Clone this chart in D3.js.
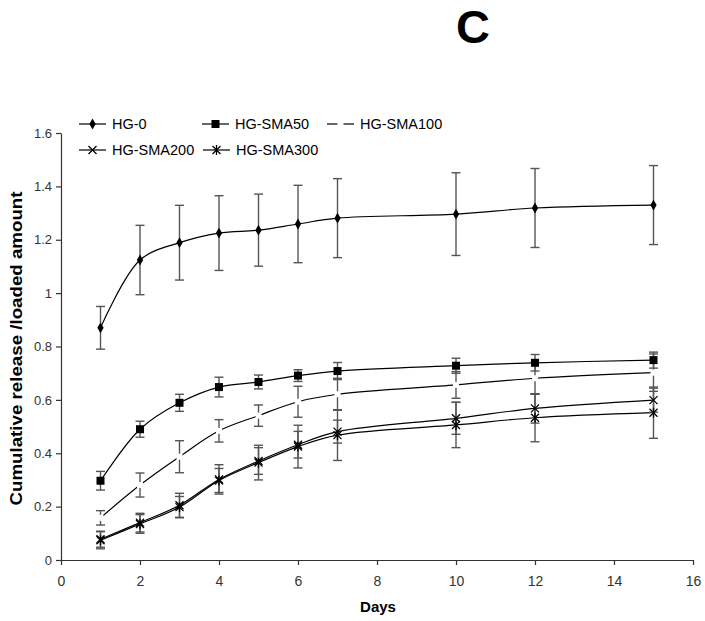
<!DOCTYPE html>
<html><head><meta charset="utf-8">
<script src="https://cdn.jsdelivr.net/npm/d3@7"></script>
<style>body{margin:0;background:#fff}</style></head>
<body>
<svg id="c" width="705" height="621"></svg>
<script>
const days = [1, 2, 3, 4, 5, 6, 7, 10, 12, 15];
const seriesNames = ["HG-0", "HG-SMA50", "HG-SMA100", "HG-SMA200", "HG-SMA300"];
const hg0      = [0.87, 1.124, 1.189, 1.225, 1.236, 1.259, 1.281, 1.296, 1.319, 1.33];
const hg0Err   = [0.08, 0.13, 0.14, 0.14, 0.135, 0.145, 0.148, 0.155, 0.148, 0.148];
const sma50    = [0.297, 0.49, 0.589, 0.648, 0.667, 0.691, 0.708, 0.728, 0.739, 0.749];
const sma50Err = [0.035, 0.03, 0.032, 0.037, 0.026, 0.022, 0.032, 0.028, 0.031, 0.03];
const sma100   = [0.158, 0.281, 0.387, 0.484, 0.541, 0.593, 0.621, 0.656, 0.681, 0.702];
const sma100Err= [0.027, 0.045, 0.06, 0.042, 0.04, 0.058, 0.06, 0.05, 0.06, 0.07];
const sma200   = [0.078, 0.14, 0.205, 0.302, 0.371, 0.432, 0.481, 0.531, 0.568, 0.599];
const sma200Err= [0.03, 0.035, 0.045, 0.055, 0.05, 0.05, 0.043, 0.06, 0.055, 0.045];
const sma300   = [0.074, 0.135, 0.198, 0.298, 0.365, 0.425, 0.468, 0.506, 0.533, 0.552];
const sma300Err= [0.032, 0.035, 0.04, 0.045, 0.065, 0.08, 0.095, 0.085, 0.09, 0.096];
const xTicks = [0, 2, 4, 6, 8, 10, 12, 14, 16];
const yTicks = [0, 0.2, 0.4, 0.6, 0.8, 1, 1.2, 1.4, 1.6];
const markerTypes = ["diamond", "square", "blank", "cross", "star"];

const seriesVals = [hg0, sma50, sma100, sma200, sma300];
const seriesErrs = [hg0Err, sma50Err, sma100Err, sma200Err, sma300Err];

const svg = d3.select("#c");
const x = d3.scaleLinear().domain([0, 16]).range([61, 693]);
const y = d3.scaleLinear().domain([0, 1.6]).range([560, 133]);
const font = "Arial, 'Liberation Sans', sans-serif";

// Title
svg.append("text").attr("x", 473).attr("y", 43).attr("text-anchor", "middle")
  .attr("font-family", font).attr("font-weight", "bold").attr("font-size", 47).text("C");

// Axes
const xAxis = svg.append("g").attr("transform", `translate(0,${y(0)})`)
  .call(d3.axisBottom(x).tickValues(xTicks).tickFormat(d3.format("d")).tickSize(5).tickSizeOuter(0));
const yAxis = svg.append("g").attr("transform", `translate(${x(0)},0)`)
  .call(d3.axisLeft(y).tickValues(yTicks).tickFormat(d => d3.format("")(d)).tickSize(5).tickSizeOuter(0));
[xAxis, yAxis].forEach(g => {
  g.select(".domain").attr("stroke", "#333").attr("stroke-width", 1.2);
  g.selectAll(".tick line").attr("stroke", "#333").attr("stroke-width", 1.2);
  g.selectAll(".tick text").attr("font-family", font).attr("font-size", 13).attr("fill", "#333");
});
xAxis.selectAll(".tick text").attr("font-size", 14).attr("dy", "1.3em");
yAxis.selectAll(".tick text").attr("x", -9);

// Axis titles
svg.append("text").attr("x", 378).attr("y", 612).attr("text-anchor", "middle")
  .attr("font-family", font).attr("font-weight", "bold").attr("font-size", 15).text("Days");
svg.append("text").attr("transform", `translate(22,${(y(0) + y(1.6)) / 2 + 2}) rotate(-90)`)
  .attr("text-anchor", "middle").attr("font-family", font).attr("font-weight", "bold")
  .attr("font-size", 16).attr("textLength", 314).attr("lengthAdjust", "spacingAndGlyphs")
  .text("Cumulative release /loaded amount");

function drawMarker(g, type, cx, cy) {
  if (type === "diamond") {
    g.append("path").attr("d", d3.symbol(d3.symbolDiamond, 34)())
      .attr("transform", `translate(${cx},${cy})`).attr("fill", "#000");
  } else if (type === "square") {
    g.append("rect").attr("x", cx - 4).attr("y", cy - 4).attr("width", 8).attr("height", 8).attr("fill", "#000");
  } else if (type === "blank") {
    g.append("rect").attr("x", cx - 3).attr("y", cy - 3).attr("width", 6).attr("height", 6).attr("fill", "#fff");
  } else if (type === "cross" || type === "star") {
    const r = 4;
    g.append("path").attr("d", `M${cx - r},${cy - r}L${cx + r},${cy + r}M${cx - r},${cy + r}L${cx + r},${cy - r}`)
      .attr("stroke", "#000").attr("stroke-width", 1.3).attr("fill", "none");
    if (type === "star") {
      g.append("path").attr("d", `M${cx},${cy - r - 1}L${cx},${cy + r + 1}`)
        .attr("stroke", "#000").attr("stroke-width", 1.3);
    }
  }
}

const line = d3.line().x((d, i) => x(days[i])).y(d => y(d)).curve(d3.curveCatmullRom.alpha(0.5));

// Lines
seriesVals.forEach((vals, si) => {
  svg.append("path").datum(vals).attr("d", line).attr("fill", "none")
    .attr("stroke", "#000").attr("stroke-width", 1.2);
});
// Error bars
seriesVals.forEach((vals, si) => {
  const g = svg.append("g").attr("stroke", "#555").attr("stroke-width", 1.4);
  vals.forEach((v, i) => {
    const e = seriesErrs[si][i];
    const cx = x(days[i]);
    g.append("line").attr("x1", cx).attr("x2", cx).attr("y1", y(v + e)).attr("y2", y(v - e));
    g.append("line").attr("x1", cx - 4.5).attr("x2", cx + 4.5).attr("y1", y(v + e)).attr("y2", y(v + e));
    g.append("line").attr("x1", cx - 4.5).attr("x2", cx + 4.5).attr("y1", y(v - e)).attr("y2", y(v - e));
  });
});
// Markers
seriesVals.forEach((vals, si) => {
  const g = svg.append("g");
  vals.forEach((v, i) => drawMarker(g, markerTypes[si], x(days[i]), y(v)));
});

// Legend
const legendPos = [[79, 124], [202, 124], [327, 124], [79, 150], [203, 150]];
seriesNames.forEach((name, si) => {
  const [lx, ly] = legendPos[si];
  const g = svg.append("g");
  g.append("line").attr("x1", lx).attr("x2", lx + 27).attr("y1", ly).attr("y2", ly)
    .attr("stroke", "#000").attr("stroke-width", 1.2);
  drawMarker(g, markerTypes[si], lx + 13.5, ly);
  g.append("text").attr("x", lx + 33).attr("y", ly + 5).attr("font-family", font)
    .attr("font-size", 14.5).attr("fill", "#000").text(name);
});
</script>
</body></html>
